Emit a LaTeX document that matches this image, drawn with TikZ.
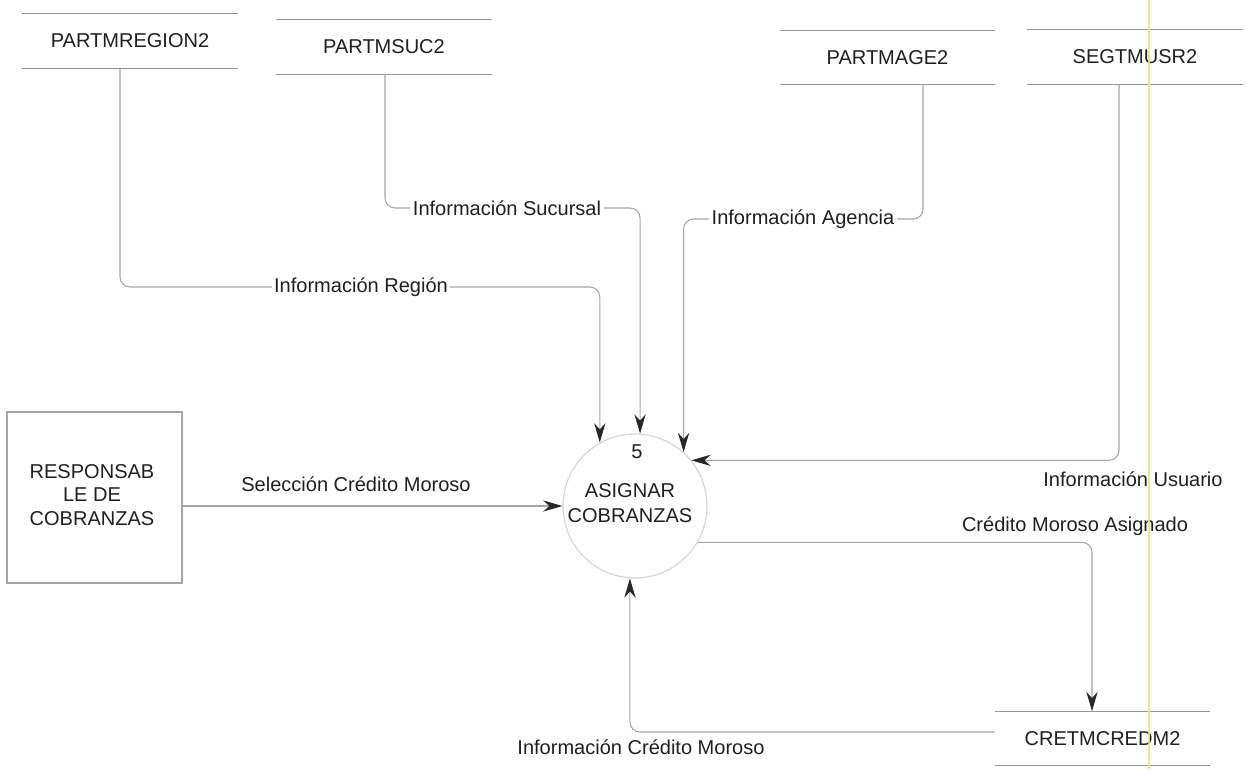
\documentclass[tikz,border=0pt]{standalone}
\usepackage{fontspec}
\setmainfont{Liberation Sans}
\usetikzlibrary{arrows.meta,calc}
\definecolor{inkline}{RGB}{165,165,165}
\definecolor{storeline}{RGB}{150,150,150}
\definecolor{tipink}{RGB}{40,40,40}
\definecolor{scanline}{RGB}{228,224,150}
\begin{document}
\begin{tikzpicture}[x=0.02cm,y=-0.02cm,
  every node/.style={font=\fontsize{11.4}{13.4}\selectfont, text=black!88},
  line/.style={draw=inkline, line width=0.6pt},
  flow/.style={line, rounded corners=0.2cm,
    -{Stealth[length=11pt,width=6.4pt,inset=3.6pt,color=tipink]}},
  flowlbl/.style={fill=white, inner sep=1.5pt},
  store/.style={minimum width=4.3cm, minimum height=1.08cm, inner sep=0pt},
]
\useasboundingbox (0,0) rectangle (1247,769);

% data stores
\node[store] (reg)  at (130,41)    {PARTMREGION2};
\node[store] (suc)  at (384,47)    {PARTMSUC2};
\node[store] (age)  at (887.5,57.5) {PARTMAGE2};
\node[store] (usr)  at (1135,57)   {SEGTMUSR2};
\node[store] (cred) at (1102.5,738.5) {CRETMCREDM2};
\foreach \s in {reg,suc,age,usr,cred}
  \draw[draw=storeline, line width=0.7pt]
    (\s.north west) -- (\s.north east) (\s.south west) -- (\s.south east);

% external entity
\node[draw=inkline, line width=0.7pt, minimum width=3.5cm, minimum height=3.42cm,
      inner sep=0pt] (ent) at (94.5,497.5) {};
\node[align=center, font=\fontsize{11.4}{13.4}\selectfont] (entlbl) at (92,495)
  {RESPONSAB\\LE DE\\COBRANZAS};

% process
\node[circle, draw=black!16, line width=0.7pt, minimum size=2.88cm, inner sep=0pt]
  (c) at (635,506) {};
\node (pnum) at (637,452) {5};
\node[align=center, font=\fontsize{11.4}{14.2}\selectfont] (pname) at (630,503.5)
  {ASIGNAR\\COBRANZAS};

% routing guides
\coordinate (rx) at (120,0);  \coordinate (ry) at (0,287);
\coordinate (sx) at (385,0);  \coordinate (sy) at (0,208);
\coordinate (ax) at (923,0);  \coordinate (ay) at (0,219);
\coordinate (ux) at (1119,0);
\coordinate (cx) at (1092,0);
\coordinate (iy) at (0,732);

% data flows
\draw[flow] (reg.south -| rx) -- (rx |- ry) -- (c.119 |- ry) -- (c.119);
\draw[flow] (suc.south -| sx) -- (sx |- sy) -- (c.86 |- sy) -- (c.86);
\draw[flow] (age.south -| ax) -- (ax |- ay) -- (c.48 |- ay) -- (c.48);
\draw[flow] (usr.south -| ux) |- (c.39);
\draw[flow] (ent.east |- c.west) -- (c.west);
\draw[flow] (c.-30) -| (cred.north -| cx);
\draw[flow] (cred.west |- iy) -| (c.-94);

% flow labels
\node[flowlbl] (lreg) at (361,287) {Información Región};
\node[flowlbl] (lsuc) at (507,208) {Información Sucursal};
\node[flowlbl] (lage) at (803,219) {Información Agencia};
\node (lusr) at (1133,479) {Información Usuario};
\node (lsel) at (356,484) {Selección Crédito Moroso};
\node (lcma) at (1075,526) {Crédito Moroso Asignado};
\node (licm) at (641,747) {Información Crédito Moroso};

% faint vertical streak across the sheet
\draw[draw=scanline, line width=0.8pt, opacity=0.85] (1149,0) -- (1149,769);
\end{tikzpicture}
\end{document}
